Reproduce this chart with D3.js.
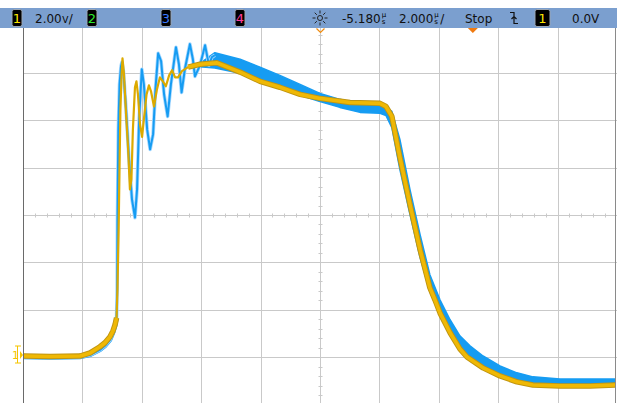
<!DOCTYPE html>
<html lang="en">
<head>
<meta charset="UTF-8">
<title>Scope capture</title>
<script src="https://cdn.jsdelivr.net/npm/d3@7/dist/d3.min.js"></script>
<style>
  body { margin: 0; background: #fff; }
  text { font-family: "DejaVu Sans", sans-serif; }
</style>
</head>
<body>
<script>
// channel 1 (yellow): [time µs, volts]
const ch1 = [
  [-15.18,0.05],[-14.27,0.03],[-13.26,0.05],[-12.92,0.18],[-12.59,0.44],[-12.42,0.61],
  [-12.25,0.86],[-12.15,1.11],[-12.08,1.37],[-12.03,1.66],[-12.00,2.85],[-11.96,5.39],
  [-11.93,7.96],[-11.90,10.46],[-11.86,11.94],[-11.83,12.61],[-11.78,11.94],[-11.71,10.25],
  [-11.64,8.77],[-11.58,7.08],[-11.53,7.50],[-11.48,9.61],[-11.41,11.39],[-11.36,11.64],
  [-11.31,11.09],[-11.24,9.83],[-11.17,9.30],[-11.11,10.04],[-11.02,11.09],[-10.94,11.47],
  [-10.87,11.22],[-10.77,10.58],[-10.67,11.30],[-10.57,11.81],[-10.47,11.64],[-10.37,11.43],
  [-10.26,11.89],[-10.16,12.11],[-10.06,11.81],[-9.96,11.81],[-9.83,12.07],[-9.62,12.24],
  [-9.22,12.36],[-8.65,12.42],[-7.87,12.03],[-7.20,11.64],[-6.53,11.39],[-5.85,11.09],
  [-5.18,10.92],[-4.17,10.75],[-3.16,10.71],[-2.96,10.58],[-2.76,10.16],[-2.49,8.43],
  [-2.15,6.44],[-1.81,4.54],[-1.48,2.93],[-1.31,2.42],[-1.14,1.87],[-0.80,1.03],
  [-0.47,0.35],[-0.23,0.01],[0.31,-0.45],[0.88,-0.79],[1.45,-1.04],[1.99,-1.17],
  [2.90,-1.21],[3.91,-1.21],[4.82,-1.17]
];

// channel 2 (blue), ringing part: [time µs, volts]
const ch2Ring = [
  [-15.18,0.01],[-14.27,-0.01],[-13.26,0.01],[-12.92,0.10],[-12.59,0.31],[-12.42,0.48],
  [-12.25,0.73],[-12.15,1.03],[-12.08,1.32],[-12.03,1.66],[-12.01,2.85],[-12.00,5.81],
  [-11.97,9.61],[-11.93,11.51],[-11.88,12.28],[-11.85,12.44],[-11.80,12.07],[-11.71,10.46],
  [-11.61,8.35],[-11.51,6.65],[-11.41,5.89],[-11.34,7.07],[-11.27,10.04],[-11.18,12.15],
  [-11.11,11.51],[-11.00,9.61],[-10.90,8.77],[-10.80,9.40],[-10.72,11.30],[-10.63,12.82],
  [-10.53,12.49],[-10.43,11.09],[-10.31,10.16],[-10.20,11.51],[-10.03,13.08],[-9.93,12.36],
  [-9.84,11.17],[-9.73,12.15],[-9.56,13.21],[-9.46,12.57],[-9.39,11.85],[-9.22,12.32],
  [-9.05,13.16],[-8.92,12.32],[-8.82,12.66],[-8.72,12.74]
];

// channel 2 (blue), noisy envelope: [time µs, low volts, high volts]
const ch2Band = [
  [-9.22,12.25,12.40],[-8.72,12.20,12.85],[-7.87,11.98,12.57],[-7.20,11.64,12.24],
  [-6.53,11.39,11.89],[-5.85,11.05,11.51],[-5.18,10.79,11.13],[-4.51,10.54,10.88],
  [-3.83,10.33,10.67],[-3.16,10.29,10.63],[-2.96,10.20,10.54],[-2.76,9.69,10.37],
  [-2.49,7.92,9.19],[-2.15,6.02,7.07],[-1.81,4.20,5.17],[-1.48,2.76,3.48],
  [-1.14,1.79,2.42],[-0.80,1.03,1.58],[-0.47,0.44,0.90],[-0.13,0.05,0.48],
  [0.31,-0.37,0.05],[0.88,-0.70,-0.37],[1.45,-0.99,-0.66],[1.99,-1.08,-0.83],
  [2.90,-1.13,-0.92],[4.82,-1.13,-0.92]
];

// scope settings / status line
const voltsPerDiv = 2, timePerDiv = 2, delay = -5.18, groundDiv = -3;
const ch1Label = "2.00", delayLabel = "-5.180", timeLabel = "2.000";
const runState = "Stop", trigLevel = "0.0V";
const channelBoxes = [
  { n: "2", x: 87, color: "#2ee82e" },
  { n: "3", x: 161, color: "#3b7bff" },
  { n: "4", x: 235, color: "#ff3d9e" }
];

const w = 617, h = 403;
const plotLeft = 23, plotRight = 617, plotTop = 28;

const xScale = d3.scaleLinear()
  .domain([delay - 5 * timePerDiv, delay + 5 * timePerDiv])
  .range([plotLeft, plotRight]);

const v0 = -(4 + groundDiv) * voltsPerDiv;
const yScale = d3.scaleLinear()
  .domain([v0, v0 + 8 * voltsPerDiv])
  .range([404.6, 25.4]);

const svg = d3.select("body").append("svg")
  .attr("width", w).attr("height", h);

svg.append("rect").attr("width", w).attr("height", h).attr("fill", "#fff");

// grid
const grid = svg.append("g").attr("stroke", "#c9c9c9").attr("stroke-width", 1);
const xLines = d3.range(1, 10).map(i => xScale.domain()[0] + i * timePerDiv);
const yLines = d3.range(1, 8).map(i => v0 + i * voltsPerDiv);
grid.selectAll(".vx").data(xLines).enter().append("line")
  .attr("x1", d => Math.round(xScale(d)) + 0.5).attr("x2", d => Math.round(xScale(d)) + 0.5)
  .attr("y1", plotTop).attr("y2", h);
grid.selectAll(".hy").data(yLines).enter().append("line")
  .attr("x1", plotLeft).attr("x2", plotRight)
  .attr("y1", d => Math.round(yScale(d)) + 0.5).attr("y2", d => Math.round(yScale(d)) + 0.5);

// minor ticks on the centre lines
const cx = Math.round(xScale(delay)) + 0.5;
const cy = Math.round(yScale(v0 + 4 * voltsPerDiv)) + 0.5;
const xMinor = d3.range(0, 51).map(i => xScale.domain()[0] + i * timePerDiv / 5);
const yMinor = d3.range(0, 41).map(i => v0 + i * voltsPerDiv / 5);
grid.selectAll(".mx").data(xMinor).enter().append("line")
  .attr("x1", d => Math.round(xScale(d)) + 0.5).attr("x2", d => Math.round(xScale(d)) + 0.5)
  .attr("y1", cy - 2).attr("y2", cy + 2);
grid.selectAll(".my").data(yMinor).enter().append("line")
  .attr("x1", cx - 2).attr("x2", cx + 2)
  .attr("y1", d => Math.round(yScale(d)) + 0.5).attr("y2", d => Math.round(yScale(d)) + 0.5);

// borders
svg.append("line").attr("x1", plotLeft + 0.5).attr("x2", plotLeft + 0.5).attr("y1", plotTop).attr("y2", h)
  .attr("stroke", "#6a6a6a");
svg.append("line").attr("x1", 615.5).attr("x2", 615.5).attr("y1", plotTop).attr("y2", h)
  .attr("stroke", "#8a8a8a");

// traces
svg.append("clipPath").attr("id", "plot")
  .append("rect").attr("x", plotLeft + 1).attr("y", plotTop)
  .attr("width", 615 - plotLeft - 1).attr("height", h - plotTop);
const traces = svg.append("g").attr("clip-path", "url(#plot)");

const line = d3.line().x(d => xScale(d[0])).y(d => yScale(d[1]));
const band = d3.area().x(d => xScale(d[0])).y0(d => yScale(d[1])).y1(d => yScale(d[2]));

const ringStart = -12.03, ringEnd = -9.7;

// blue
traces.append("path").datum(ch2Band).attr("d", band)
  .attr("fill", "#169cf2").attr("stroke", "#169cf2").attr("stroke-width", 1.5)
  .attr("stroke-linejoin", "round");
traces.append("path").datum(ch2Ring.filter(d => d[0] <= ringStart)).attr("d", line)
  .attr("fill", "none").attr("stroke", "#169cf2").attr("stroke-width", 4.5);
traces.append("path").datum(ch2Ring).attr("d", line)
  .attr("fill", "none").attr("stroke", "#a6d8ff").attr("stroke-width", 3.6)
  .attr("stroke-linejoin", "round");
traces.append("path").datum(ch2Ring).attr("d", line)
  .attr("fill", "none").attr("stroke", "#169cf2").attr("stroke-width", 2)
  .attr("stroke-linejoin", "round");

// yellow
const ch1Thick = [ch1.filter(d => d[0] <= ringStart), ch1.filter(d => d[0] >= ringEnd)];
traces.selectAll(".y1").data(ch1Thick).enter().append("path").attr("d", line)
  .attr("fill", "none").attr("stroke", "#c09510").attr("stroke-width", 5.5)
  .attr("stroke-linejoin", "round");
traces.append("path").datum(ch1).attr("d", line)
  .attr("fill", "none").attr("stroke", "#dcaa00").attr("stroke-width", 2.2)
  .attr("stroke-linejoin", "round");
traces.selectAll(".y2").data(ch1Thick).enter().append("path").attr("d", line)
  .attr("fill", "none").attr("stroke", "#efb805").attr("stroke-width", 3.6)
  .attr("stroke-linejoin", "round");

// ground marker for channel 1
const gy = Math.round(yScale(0)) - 2;
const gm = svg.append("g").attr("stroke", "#f5c400").attr("fill", "#f5c400");
gm.append("line").attr("x1", 17.5).attr("x2", 17.5).attr("y1", gy - 9).attr("y2", gy + 8);
gm.append("line").attr("x1", 15).attr("x2", 21).attr("y1", gy - 9).attr("y2", gy - 9);
gm.append("line").attr("x1", 15).attr("x2", 21).attr("y1", gy + 8).attr("y2", gy + 8);
gm.append("path").attr("d", `M20,${gy - 4} L23,${gy} L20,${gy + 4} Z`).attr("stroke", "none");
gm.append("text").attr("x", 12).attr("y", gy + 4).attr("font-size", 11).attr("stroke", "none")
  .text("1");

// status bar
svg.append("rect").attr("x", 0).attr("y", 8).attr("width", w).attr("height", 20)
  .attr("fill", "#7b9fcf");
const bar = svg.append("g");
const base = 23;

function chanBox(x, n, color, bw) {
  bar.append("rect").attr("x", x).attr("y", 9.5).attr("width", bw).attr("height", 17)
    .attr("rx", 2).attr("fill", "#000").attr("stroke", "#9aa6b5").attr("stroke-width", 1);
  bar.append("text").attr("x", x + bw / 2).attr("y", base).attr("text-anchor", "middle")
    .attr("font-size", 13).attr("fill", color).text(n);
}

function stackedUnit(x, a, b) {
  bar.append("text").attr("x", x).attr("y", base - 6).attr("font-size", 7).text(a);
  bar.append("text").attr("x", x).attr("y", base + 0.5).attr("font-size", 7).text(b);
}

function label(x, s) {
  const t = bar.append("text").attr("x", x).attr("y", base).attr("font-size", 12)
    .attr("fill", "#111").text(s);
  return x + t.node().getComputedTextLength();
}

chanBox(12, "1", "#ffe600", 10);
let e = label(35, ch1Label);
bar.append("text").attr("x", e + 0.5).attr("y", base).attr("font-size", 9).text("V");
label(e + 7, "/");
channelBoxes.forEach(c => chanBox(c.x, c.n, c.color, 10));

// sun icon
const sun = bar.append("g").attr("stroke", "#222").attr("stroke-width", 1);
sun.append("circle").attr("cx", 320).attr("cy", 18).attr("r", 2.5).attr("fill", "none");
d3.range(8).forEach(i => {
  const a = i * Math.PI / 4;
  sun.append("line")
    .attr("x1", 320 + 4.5 * Math.cos(a)).attr("y1", 18 + 4.5 * Math.sin(a))
    .attr("x2", 320 + 7.5 * Math.cos(a)).attr("y2", 18 + 7.5 * Math.sin(a));
});

e = label(342, delayLabel);
stackedUnit(e + 1, "µ", "s");
e = label(399, timeLabel);
stackedUnit(e + 1, "µ", "s");
label(e + 7, "/");
label(465, runState);

// falling edge trigger icon
bar.append("path").attr("d", "M510,12.5 H514 V23.5 H518 M511.5,19 L514,16.5 L516.5,19")
  .attr("fill", "none").attr("stroke", "#111").attr("stroke-width", 1.2);
chanBox(535, "1", "#ffe600", 15);
label(572, trigLevel);

// delay reference and trigger point markers
svg.append("path").attr("d", `M${cx - 4},28.5 L${cx},32.5 L${cx + 4},28.5`)
  .attr("fill", "none").attr("stroke", "#f08c10").attr("stroke-width", 1.2);
const tx = xScale(0) - 1;
svg.append("path").attr("d", `M${tx - 5},28 L${tx + 5},28 L${tx},33 Z`).attr("fill", "#f07a10");
</script>
</body>
</html>
